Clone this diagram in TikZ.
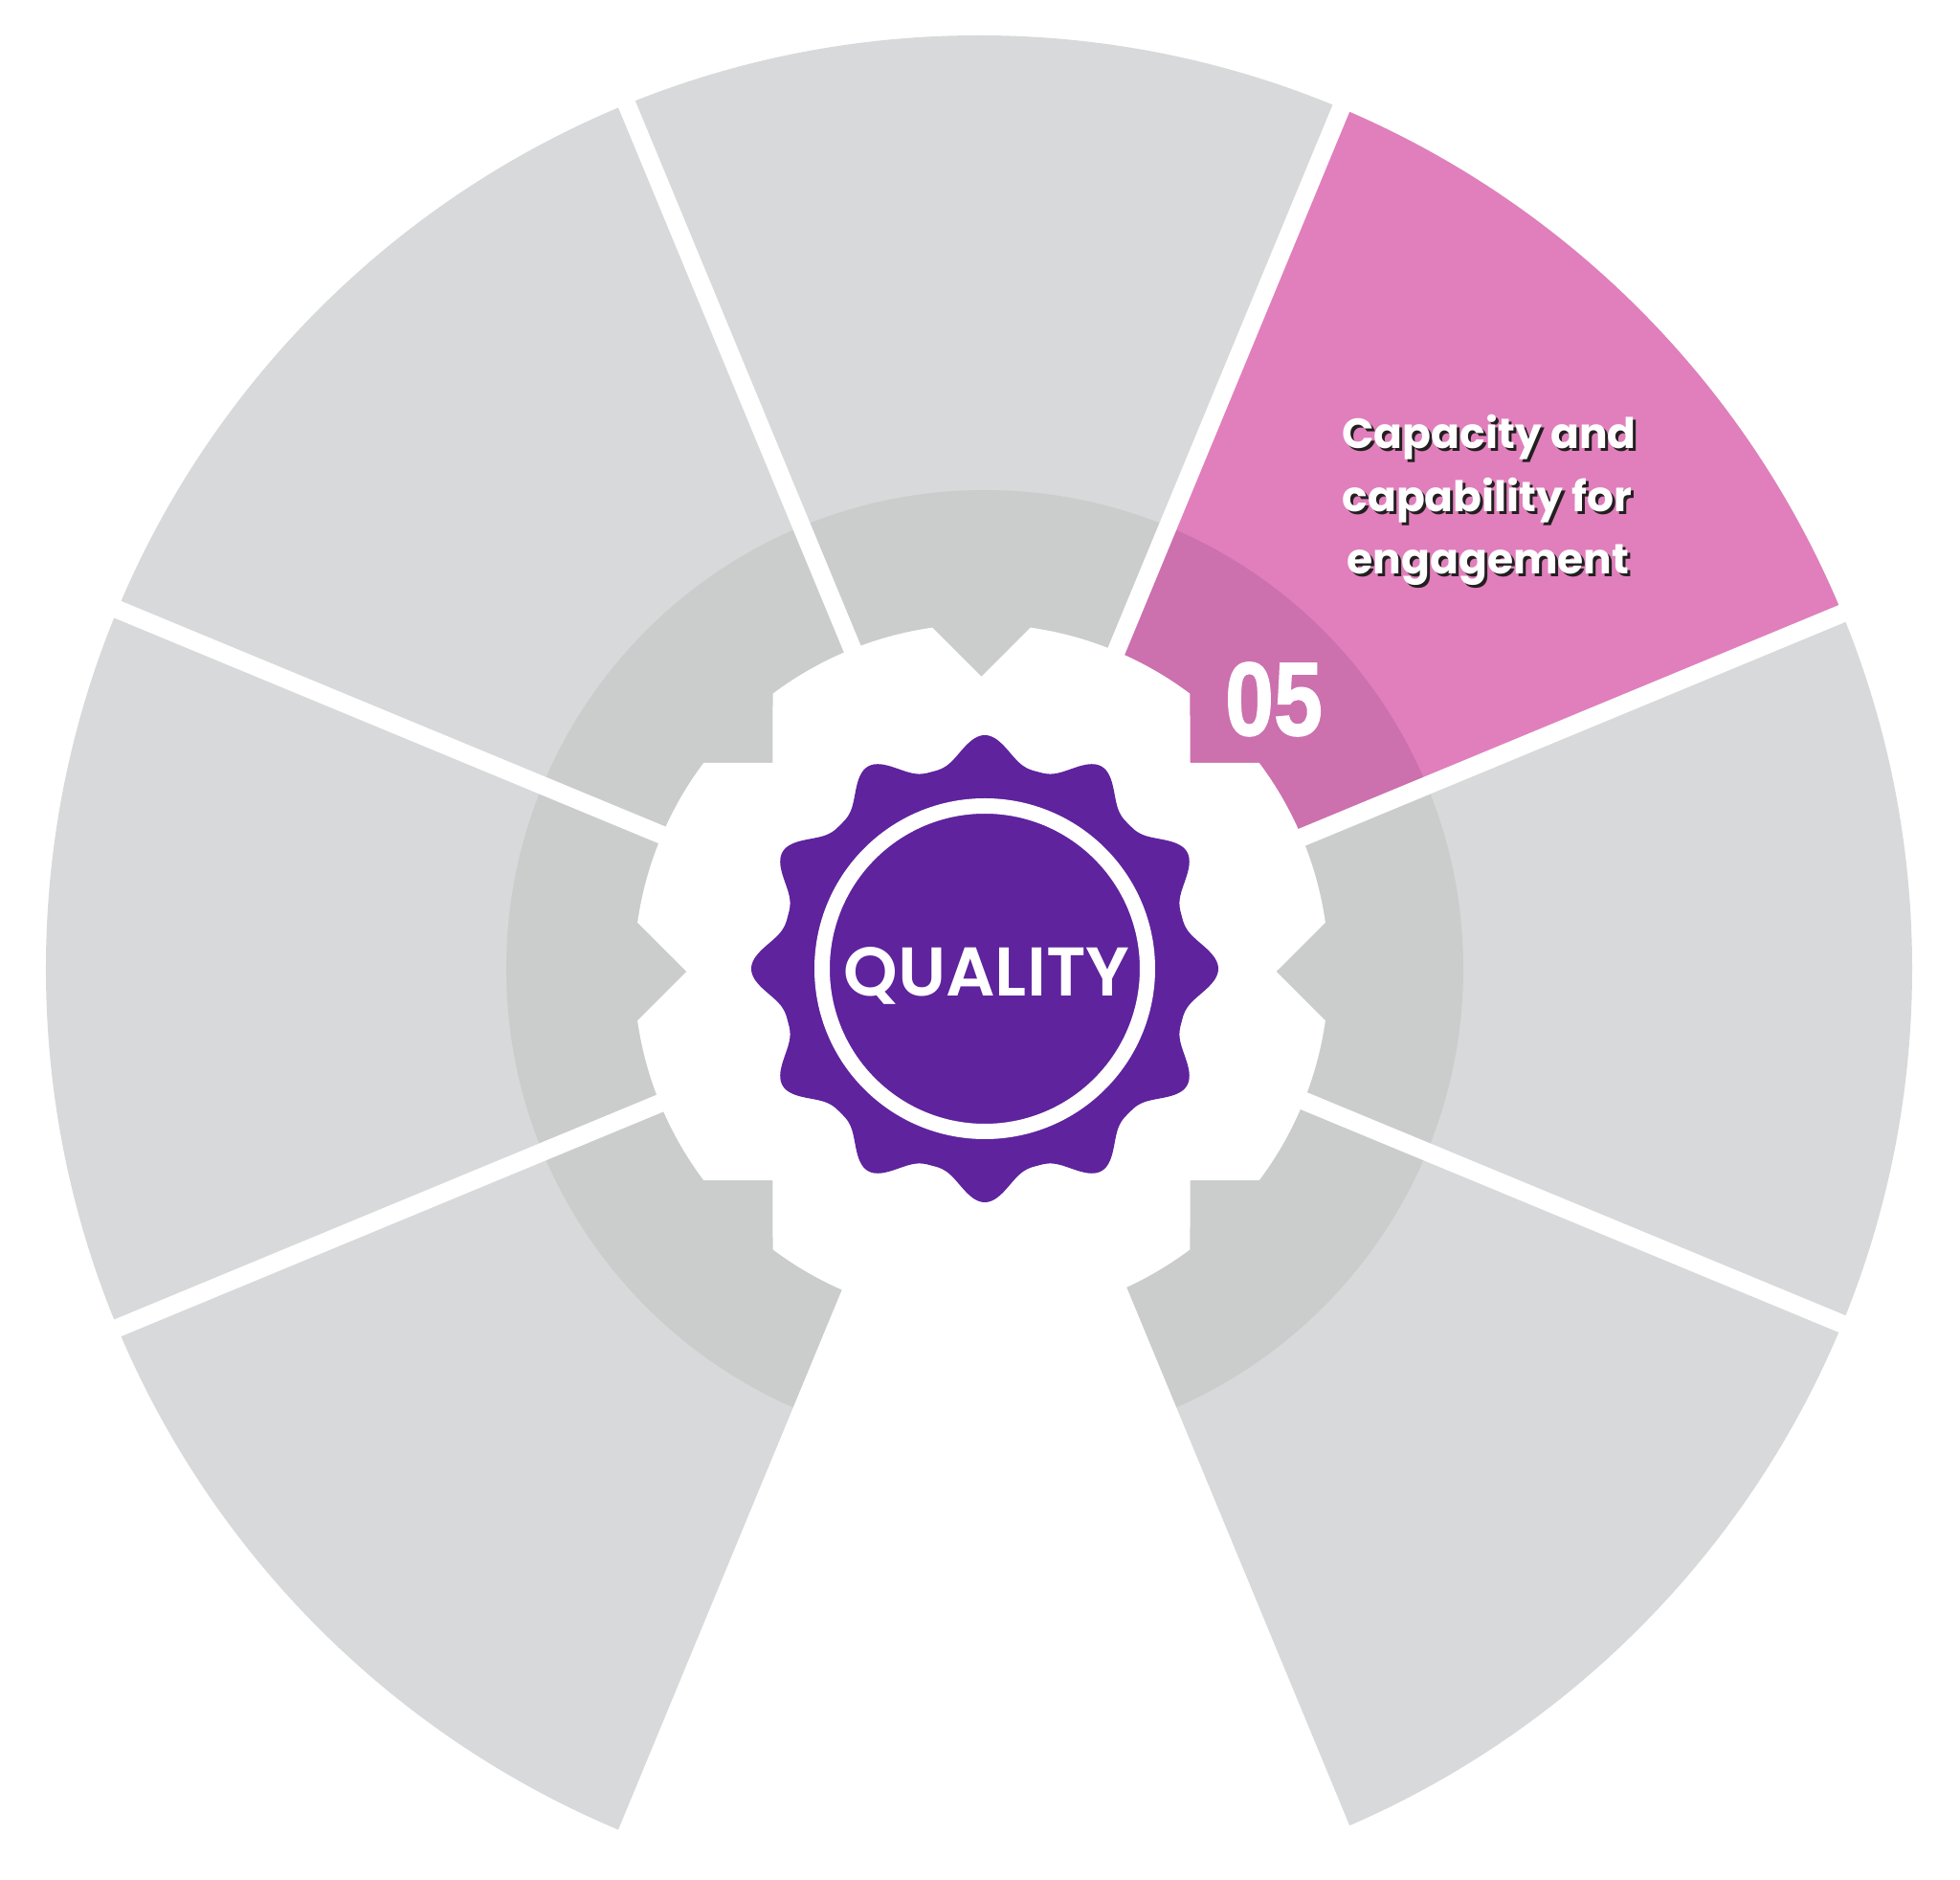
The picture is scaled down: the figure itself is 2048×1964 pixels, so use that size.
\documentclass[tikz,border=0pt]{standalone}
\usepackage{fontspec}
\setmainfont{Poppins}
\newfontfamily\popsb{Poppins}[UprightFont=* Bold]
\newfontfamily\popmd{Poppins}[UprightFont=* SemiBold]
\newfontfamily\numfont{Liberation Sans}[BoldFeatures={FakeBold=1.5}]
\usepackage{graphicx}
\definecolor{secgray}{HTML}{D7D9DA}
\definecolor{ringgray}{HTML}{CBCDCD}
\definecolor{secpink}{HTML}{E07FBC}
\definecolor{ringpink}{HTML}{CC70AE}
\definecolor{badgepurple}{HTML}{5E239D}
\definecolor{shadowc}{HTML}{231F20}
\tikzset{
  lbl/.style={inner sep=0pt, anchor=base, text=white, font=\popsb\fontsize{44}{44}\selectfont},
  lblshadow/.style={lbl, text=shadowc},
  gap/.style={white, line width=19pt},
}
\begin{document}
\begin{tikzpicture}[x=1pt,y=1pt]
\useasboundingbox (-1029,-952) rectangle (1019,1012);
\fill[white] (-1029,-952) rectangle (1019,1012);
\coordinate (C) at (0,0);
\coordinate (O) at (-6,0);
% sectors
\fill[secgray] (O) circle[radius=975];
\fill[ringgray] (C) circle[radius=500];
\begin{scope}
  \clip (O) circle[radius=975];
  \fill[secpink] (C) -- +(22.5:1400) -- +(67.5:1400) -- cycle;
\end{scope}
\fill[ringpink] (C) -- (22.5:500) arc[start angle=22.5, end angle=67.5, radius=500] -- cycle;
\fill[white] (C) -- +(247.5:1400) -- +(292.5:1400) -- cycle;
\foreach \a in {22.5,67.5,...,337.5} \draw[gap] (C) -- +(\a:1100);
% gear
\begin{scope}[shift={(-3.5,-3)}]
\fill[white] (0:308) \foreach \a in {0,90,180,270}{
   -- (\a+8.13:363) arc[start angle=\a+8.13, end angle=\a+36.91, radius=363]
   -- (\a+45:308.3) -- (\a+53.09:363)
   arc[start angle=\a+53.09, end angle=\a+81.87, radius=363]
   -- (\a+90:308)} -- cycle;
\end{scope}
% badge
\fill[badgepurple] plot[domain=0:360, samples=721]
   (\x:{213+31*(0.5+0.5*cos(12*\x)+0.00001)^1.47}) -- cycle;
\draw[white, line width=16pt] (C) circle[radius=170];
\node[inner sep=0pt, anchor=base, text=white, font=\popmd\fontsize{72}{72}\selectfont] (q) at (2,-29) {QUALITY};
% number
\node[inner sep=0pt, anchor=base, text=white, font=\numfont\bfseries\fontsize{109}{109}\selectfont] (n5) at (302,244) {\scalebox{0.84}[1]{05}};
% label
\node[lblshadow] at (530,540) {Capacity and};
\node[lbl] (l1) at (527,543) {Capacity and};
\node[lblshadow] at (528,474) {capability for};
\node[lbl] (l2) at (525,477) {capability for};
\node[lblshadow] at (529,409) {engagement};
\node[lbl] (l3) at (526,412) {engagement};
\end{tikzpicture}
\end{document}
